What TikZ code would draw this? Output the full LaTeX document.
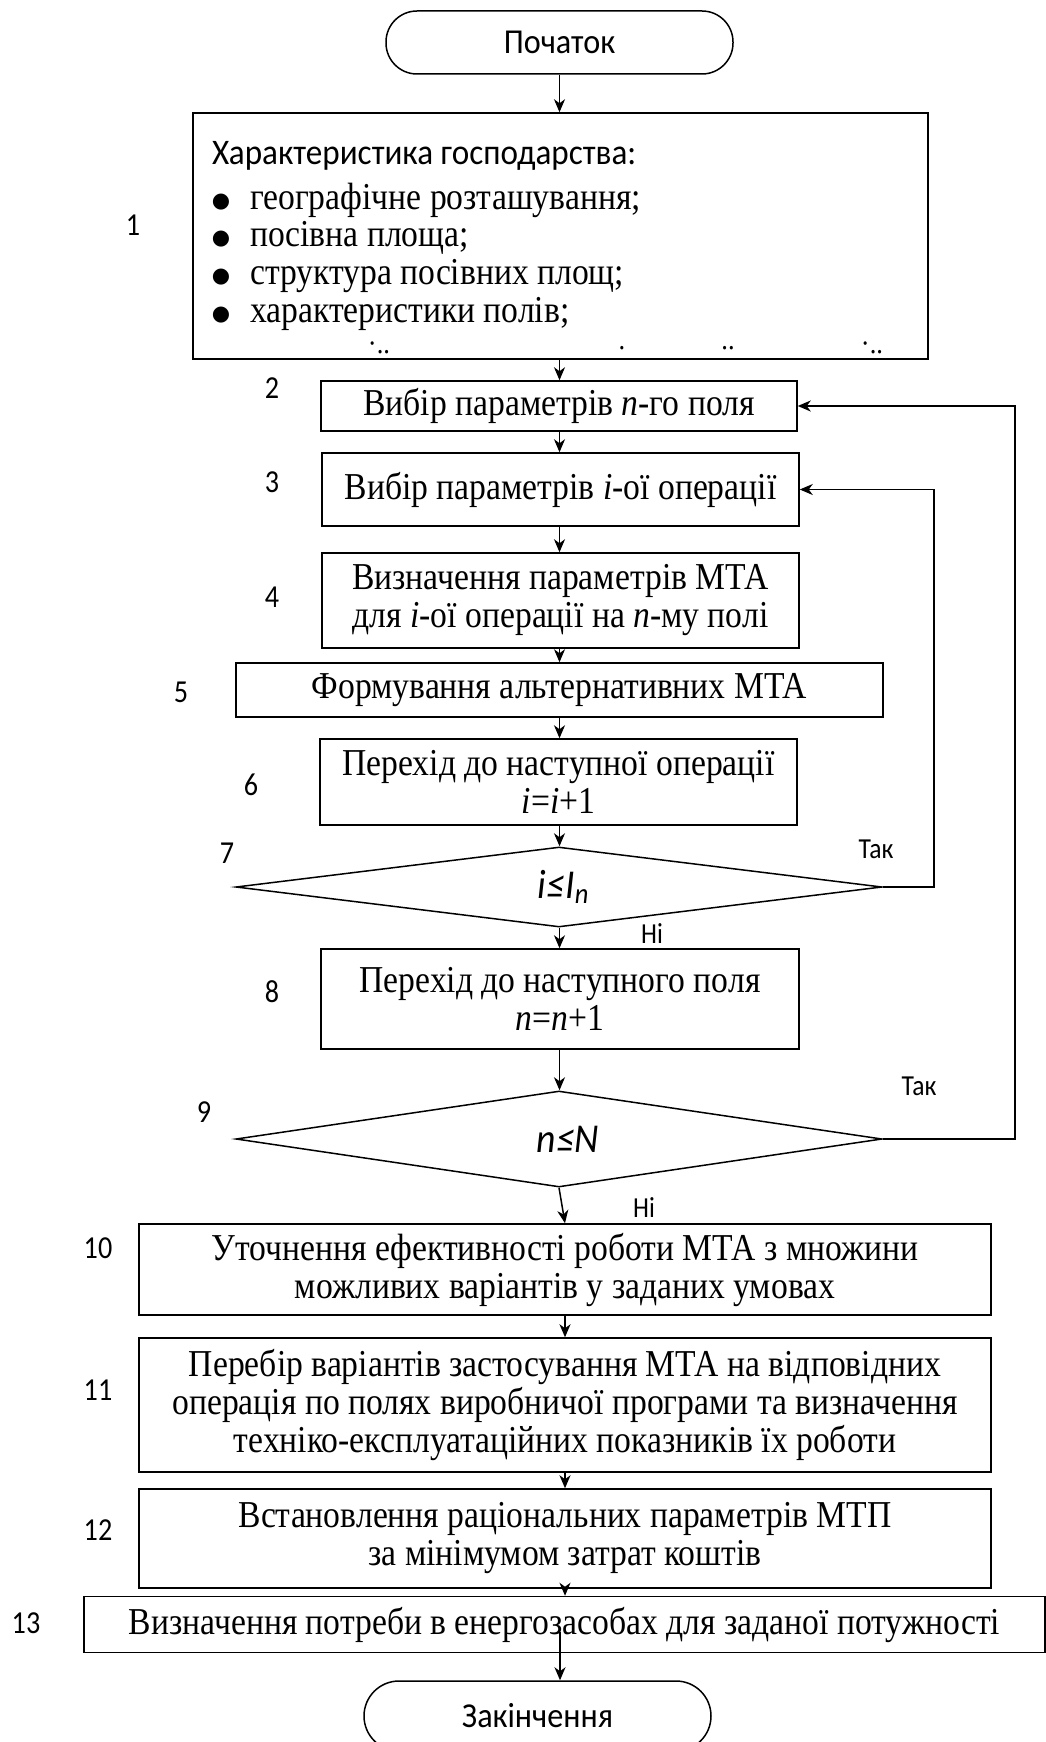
\documentclass[tikz,border=0pt]{standalone}
\usepackage{fontspec}
\setmainfont{Liberation Serif}[FakeStretch=0.885]
\newfontfamily\calfont{Carlito}[FakeStretch=0.92]
\newfontfamily\calnum{Carlito}[FakeStretch=0.88]
\newfontfamily\dvfont{DejaVu Sans}
\usetikzlibrary{shapes.geometric,arrows.meta,calc}
\newcommand{\bigbul}{\raisebox{2pt}{\dvfont\fontsize{21}{21}\selectfont ●}}
\begin{document}
\begin{tikzpicture}[x=1pt,y=-1pt,
  line width=1.5pt,
  box/.style={draw, rectangle, inner sep=0pt, align=center, font=\fontsize{38}{38}\selectfont},
  item/.style={anchor=west, inner sep=2pt, font=\fontsize{38}{38}\selectfont},
  term/.style={draw, rectangle, rounded corners=31pt, inner sep=0pt, font=\calfont\fontsize{35}{38}\selectfont},
  dec/.style={draw, diamond, aspect=8, inner sep=0pt, font=\calfont\itshape\fontsize{41}{42}\selectfont},
  num/.style={font=\calnum\fontsize{32}{32}\selectfont},
  yn/.style={font=\calnum\fontsize{29}{30}\selectfont},
  dots/.style={font=\fontsize{30}{30}\selectfont},
  arr/.style={-{Stealth[length=13pt,width=11pt,inset=4pt]}, line width=1.5pt}
]
\useasboundingbox (0,0) rectangle (1046,1742);
% nodes
\node[term, minimum width=347pt, minimum height=63pt] (start) at (559.5,42.5) {Початок};
\node[box, minimum width=735pt, minimum height=246pt] (b1) at (560.5,236) {};
\node[anchor=west, font=\calfont\fontsize{36}{38}\selectfont] (h1) at (208,156) {Характеристика господарства:};
\node[item] (l1) at (209,200) {\bigbul\hspace{20pt}географічне розташування;};
\node[item] (l2) at (209,238) {\bigbul\hspace{20pt}посівна площа;};
\node[item] (l3) at (209,276) {\bigbul\hspace{20pt}структура посівних площ;};
\node[item] (l4) at (209,314) {\bigbul\hspace{20pt}характеристики полів;};
\node[dots] (p1) at (379,348) {·..};
\node[dots] (p2) at (622,348) {.};
\node[dots] (p3) at (728,348) {..};
\node[dots] (p4) at (872,348) {·..};

\node[box, minimum width=476pt, minimum height=50pt] (b2) at (559,406) {Вибір параметрів \textit{n}-го поля};
\node[box, minimum width=477pt, minimum height=73pt] (b3) at (560.5,489.5) {Вибір параметрів \textit{i}-ої операції};
\node[box, minimum width=477pt, minimum height=95pt] (b4) at (560.5,600.5) {Визначення параметрів МТА\\для \textit{i}-ої операції на \textit{n}-му полі};
\node[box, minimum width=647pt, minimum height=54pt] (b5) at (559.5,690) {Формування альтернативних МТА};
\node[box, minimum width=477pt, minimum height=86pt] (b6) at (558.5,782) {Перехід до наступної операції\\\textit{i}=\textit{i}+1};
\node[dec, minimum width=646pt, minimum height=80pt] (d7) at (559,887) {\hspace*{9pt}i≤I\textsubscript{n}};
\node[box, minimum width=478pt, minimum height=100pt] (b8) at (560,999) {Перехід до наступного поля\\\textit{n}=\textit{n}+1};
\node[dec, minimum width=646pt, minimum height=96pt] (d9) at (559,1139) {\hspace*{18pt}n≤N};
\node[box, minimum width=852pt, minimum height=91pt] (b10) at (565,1269.5) {Уточнення ефективності роботи МТА з множини\\можливих варіантів у заданих умовах};
\node[box, minimum width=852pt, minimum height=134pt] (b11) at (565,1405) {Перебір варіантів застосування МТА на відповідних\\операція по полях виробничої програми та визначення\\техніко-експлуатаційних показників їх роботи};
\node[box, minimum width=852pt, minimum height=99pt] (b12) at (565,1538.5) {Встановлення раціональних параметрів МТП\\за мінімумом затрат коштів};
\node[box, minimum width=961pt, minimum height=56pt] (b13) at (564.5,1624.5) {Визначення потреби в енергозасобах для заданої потужності};
\node[term, rounded corners=35pt, minimum width=347pt, minimum height=70pt] (end) at (537.5,1716) {Закінчення};

% labels
\node[num] (n1) at (133,225) {1};
\node[num] (n2) at (272,388) {2};
\node[num] (n3) at (272,482) {3};
\node[num] (n4) at (272,597) {4};
\node[num] (n5) at (181,692) {5};
\node[num] (n6) at (251,785) {6};
\node[num] (n7) at (227,853) {7};
\node[num] (n8) at (272,992) {8};
\node[num] (n9) at (204,1112) {9};
\node[num] (n10) at (98,1248) {10};
\node[num] (n11) at (98,1390) {11};
\node[num] (n12) at (98,1530) {12};
\node[num] (n13) at (26,1623) {13};
\node[yn] (t7) at (876,849) {Так};
\node[yn] (t9) at (919,1086) {Так};
\node[yn] (h7) at (652,934) {Ні};
\node[yn] (h9) at (644,1208) {Ні};

% connectors
\draw[arr] (start.south) -- (b1.north -| start.south);
\draw[arr] (b1.south -| start.south) -- (b2.north -| start.south);
\draw[arr] (b2.south -| start.south) -- (b3.north -| start.south);
\draw[arr] (b3.south -| start.south) -- (b4.north -| start.south);
\draw[arr] (b4.south -| start.south) -- (b5.north -| start.south);
\draw[arr] (b5.south -| start.south) -- (b6.north -| start.south);
\draw[arr] (b6.south -| start.south) -- (d7.north -| start.south);
\draw[arr] (d7.south -| start.south) -- (b8.north -| start.south);
\draw[arr] (b8.south -| start.south) -- (d9.north -| start.south);
\draw[arr] (d9.south) -- (b10.north);
\draw[arr] (b10.south) -- (b11.north);
\draw[arr] (b11.south) -- (b12.north);
\draw[arr] (b12.south) -- (b12.south |- b13.north);
\coordinate (c13) at (560,1632);
\draw[arr] (c13) -- (c13 |- end.north);
\draw[arr] (d7.east) -- ++(51,0) |- (b3.east);
\draw[arr] (d9.east) -- ++(132,0) |- (b2.east);
\end{tikzpicture}
\end{document}
